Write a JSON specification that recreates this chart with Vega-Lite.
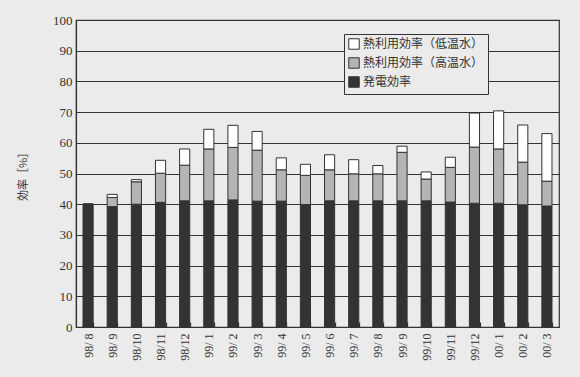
{
  "$schema": "https://vega.github.io/schema/vega-lite/v6.json",
  "width": 483,
  "height": 307,
  "autosize": {"type": "none"},
  "padding": {"left": 76, "top": 20, "right": 21, "bottom": 50},
  "background": "#ebebeb",
  "config": {
    "view": {"stroke": "#333", "strokeWidth": 1.2},
    "axis": {"labelFont": "Liberation Serif", "labelColor": "#333", "titleColor": "#333"}
  },
  "data": {
    "values": [
      {"month": "98/ 8", "type": "発電効率", "value": 40.0},
      {"month": "98/ 8", "type": "熱利用効率（高温水）", "value": 0},
      {"month": "98/ 8", "type": "熱利用効率（低温水）", "value": 0},
      {"month": "98/ 9", "type": "発電効率", "value": 39.2},
      {"month": "98/ 9", "type": "熱利用効率（高温水）", "value": 3.0},
      {"month": "98/ 9", "type": "熱利用効率（低温水）", "value": 1.0},
      {"month": "98/10", "type": "発電効率", "value": 40.0},
      {"month": "98/10", "type": "熱利用効率（高温水）", "value": 7.3},
      {"month": "98/10", "type": "熱利用効率（低温水）", "value": 0.7},
      {"month": "98/11", "type": "発電効率", "value": 40.6},
      {"month": "98/11", "type": "熱利用効率（高温水）", "value": 9.5},
      {"month": "98/11", "type": "熱利用効率（低温水）", "value": 4.2},
      {"month": "98/12", "type": "発電効率", "value": 41.1},
      {"month": "98/12", "type": "熱利用効率（高温水）", "value": 11.6},
      {"month": "98/12", "type": "熱利用効率（低温水）", "value": 5.3},
      {"month": "99/ 1", "type": "発電効率", "value": 41.1},
      {"month": "99/ 1", "type": "熱利用効率（高温水）", "value": 16.9},
      {"month": "99/ 1", "type": "熱利用効率（低温水）", "value": 6.4},
      {"month": "99/ 2", "type": "発電効率", "value": 41.4},
      {"month": "99/ 2", "type": "熱利用効率（高温水）", "value": 17.1},
      {"month": "99/ 2", "type": "熱利用効率（低温水）", "value": 7.2},
      {"month": "99/ 3", "type": "発電効率", "value": 41.0},
      {"month": "99/ 3", "type": "熱利用効率（高温水）", "value": 16.6},
      {"month": "99/ 3", "type": "熱利用効率（低温水）", "value": 6.1},
      {"month": "99/ 4", "type": "発電効率", "value": 41.0},
      {"month": "99/ 4", "type": "熱利用効率（高温水）", "value": 10.2},
      {"month": "99/ 4", "type": "熱利用効率（低温水）", "value": 3.9},
      {"month": "99/ 5", "type": "発電効率", "value": 39.9},
      {"month": "99/ 5", "type": "熱利用効率（高温水）", "value": 9.5},
      {"month": "99/ 5", "type": "熱利用効率（低温水）", "value": 3.6},
      {"month": "99/ 6", "type": "発電効率", "value": 41.1},
      {"month": "99/ 6", "type": "熱利用効率（高温水）", "value": 10.1},
      {"month": "99/ 6", "type": "熱利用効率（低温水）", "value": 4.9},
      {"month": "99/ 7", "type": "発電効率", "value": 41.1},
      {"month": "99/ 7", "type": "熱利用効率（高温水）", "value": 8.8},
      {"month": "99/ 7", "type": "熱利用効率（低温水）", "value": 4.6},
      {"month": "99/ 8", "type": "発電効率", "value": 41.1},
      {"month": "99/ 8", "type": "熱利用効率（高温水）", "value": 8.8},
      {"month": "99/ 8", "type": "熱利用効率（低温水）", "value": 2.7},
      {"month": "99/ 9", "type": "発電効率", "value": 41.1},
      {"month": "99/ 9", "type": "熱利用効率（高温水）", "value": 15.8},
      {"month": "99/ 9", "type": "熱利用効率（低温水）", "value": 2.0},
      {"month": "99/10", "type": "発電効率", "value": 41.1},
      {"month": "99/10", "type": "熱利用効率（高温水）", "value": 7.1},
      {"month": "99/10", "type": "熱利用効率（低温水）", "value": 2.3},
      {"month": "99/11", "type": "発電効率", "value": 40.7},
      {"month": "99/11", "type": "熱利用効率（高温水）", "value": 11.3},
      {"month": "99/11", "type": "熱利用効率（低温水）", "value": 3.3},
      {"month": "99/12", "type": "発電効率", "value": 40.3},
      {"month": "99/12", "type": "熱利用効率（高温水）", "value": 18.3},
      {"month": "99/12", "type": "熱利用効率（低温水）", "value": 11.1},
      {"month": "00/ 1", "type": "発電効率", "value": 40.3},
      {"month": "00/ 1", "type": "熱利用効率（高温水）", "value": 17.7},
      {"month": "00/ 1", "type": "熱利用効率（低温水）", "value": 12.4},
      {"month": "00/ 2", "type": "発電効率", "value": 39.8},
      {"month": "00/ 2", "type": "熱利用効率（高温水）", "value": 13.9},
      {"month": "00/ 2", "type": "熱利用効率（低温水）", "value": 12.1},
      {"month": "00/ 3", "type": "発電効率", "value": 39.4},
      {"month": "00/ 3", "type": "熱利用効率（高温水）", "value": 8.1},
      {"month": "00/ 3", "type": "熱利用効率（低温水）", "value": 15.5}
    ]
  },
  "mark": {"type": "bar", "stroke": "#333", "strokeWidth": 1},
  "encoding": {
    "x": {
      "field": "month",
      "type": "nominal",
      "sort": null,
      "scale": {"paddingInner": 0.58, "paddingOuter": 0.29},
      "axis": {
        "title": null,
        "offset": -5,
        "domain": false,
        "labelAngle": -90,
        "labelFontSize": 12,
        "labelPadding": 6,
        "ticks": true,
        "tickBand": "extent",
        "tickSize": 5,
        "tickWidth": 1.3,
        "tickColor": "#333"
      }
    },
    "y": {
      "field": "value",
      "type": "quantitative",
      "stack": "zero",
      "scale": {"domain": [0, 100], "nice": false},
      "axis": {
        "title": "効率［%］",
        "titleFont": "Noto Sans CJK JP",
        "titleFontSize": 11,
        "titleFontWeight": "normal",
        "titlePadding": 24,
        "values": [0, 10, 20, 30, 40, 50, 60, 70, 80, 90, 100],
        "labelFontSize": 13,
        "labelPadding": 4,
        "ticks": false,
        "grid": true,
        "gridColor": "#333",
        "gridWidth": 1.2,
        "domainColor": "#333",
        "domainWidth": 1.2
      }
    },
    "color": {
      "field": "type",
      "type": "nominal",
      "scale": {
        "domain": ["熱利用効率（低温水）", "熱利用効率（高温水）", "発電効率"],
        "range": ["#ffffff", "#b4b4b4", "#333333"]
      },
      "legend": {
        "title": null,
        "orient": "none",
        "legendX": 268,
        "legendY": 14,
        "symbolType": "square",
        "symbolSize": 110,
        "symbolStrokeColor": "#333",
        "symbolStrokeWidth": 1,
        "labelFont": "Noto Sans CJK JP",
        "labelFontSize": 12,
        "labelColor": "#333",
        "labelOffset": 3,
        "rowPadding": 3,
        "padding": 4,
        "fillColor": "#ebebeb",
        "strokeColor": "#333"
      }
    },
    "order": {"field": "type", "sort": "descending"}
  }
}
